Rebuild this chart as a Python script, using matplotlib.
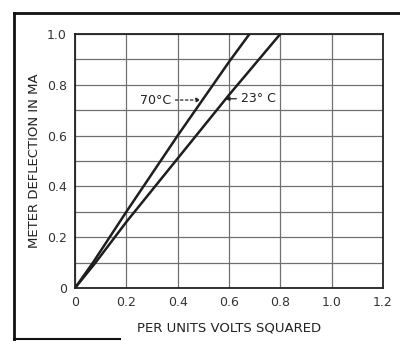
import matplotlib.pyplot as plt
from matplotlib.lines import Line2D

# meter deflection against per-unit volts squared, two ambient temperatures
x_70 = [0, 0.07, 0.20, 0.40, 0.60, 0.68]
y_70 = [0, 0.10, 0.30, 0.60, 0.89, 1.00]
x_23 = [0, 0.08, 0.20, 0.40, 0.60, 0.80]
y_23 = [0, 0.10, 0.26, 0.51, 0.76, 1.00]

x_ticks = [0, 0.2, 0.4, 0.6, 0.8, 1.0, 1.2]
x_labels = ['0', '0.2', '0.4', '0.6', '0.8', '1.0', '1.2']
y_ticks = [0, 0.2, 0.4, 0.6, 0.8, 1.0]
y_labels = ['0', '0.2', '0.4', '0.6', '0.8', '1.0']

fig = plt.figure(figsize=(4.0, 3.41), dpi=100)
ax = fig.add_axes([0.1875, 0.1554, 0.77, 0.745])

ink = '#1e1e1e'
ax.plot(x_70, y_70, color=ink, lw=1.8, solid_capstyle='round')
ax.plot(x_23, y_23, color=ink, lw=1.8, solid_capstyle='round')

ax.set_xlim(0, 1.2)
ax.set_ylim(0, 1.0)
ax.set_xticks(x_ticks)
ax.set_xticklabels(x_labels)
ax.set_yticks(y_ticks)
ax.set_yticklabels(y_labels)
ax.set_yticks([0.1, 0.3, 0.5, 0.7, 0.9], minor=True)
ax.grid(True, which='both', color='#707070', lw=0.9)
ax.set_axisbelow(True)
ax.tick_params(which='both', length=0, labelsize=9, colors='#333333', pad=6)
for s in ax.spines.values():
    s.set_color('#222222')
    s.set_linewidth(1.3)

ax.set_xlabel('PER UNITS VOLTS SQUARED', fontsize=9.5, color='#222222', labelpad=9)
ax.set_ylabel('METER DEFLECTION IN MA', fontsize=9.5, color='#222222', labelpad=4)

# curve labels with short pointer arrows
ax.annotate('70°C', xy=(0.49, 0.74), xytext=(0.375, 0.74), fontsize=9,
            color='#222222', ha='right', va='center',
            arrowprops=dict(arrowstyle='-|>', linestyle=(0, (2, 2)), lw=0.9,
                            color='#222222', mutation_scale=6, shrinkA=1, shrinkB=0))
ax.annotate('23° C', xy=(0.585, 0.745), xytext=(0.645, 0.745), fontsize=9,
            color='#222222', ha='left', va='center',
            arrowprops=dict(arrowstyle='-|>', lw=0.9, color='#222222',
                            mutation_scale=6, shrinkA=1, shrinkB=0))

# frame around the whole figure
fig.add_artist(Line2D([0.034, 1.0], [0.962, 0.962], color='#111111', lw=2.0))
fig.add_artist(Line2D([0.034, 0.034], [0.003, 0.962], color='#111111', lw=2.0))
fig.add_artist(Line2D([0.034, 0.3], [0.006, 0.006], color='#111111', lw=1.5))

fig.savefig('out.png', dpi=100)
